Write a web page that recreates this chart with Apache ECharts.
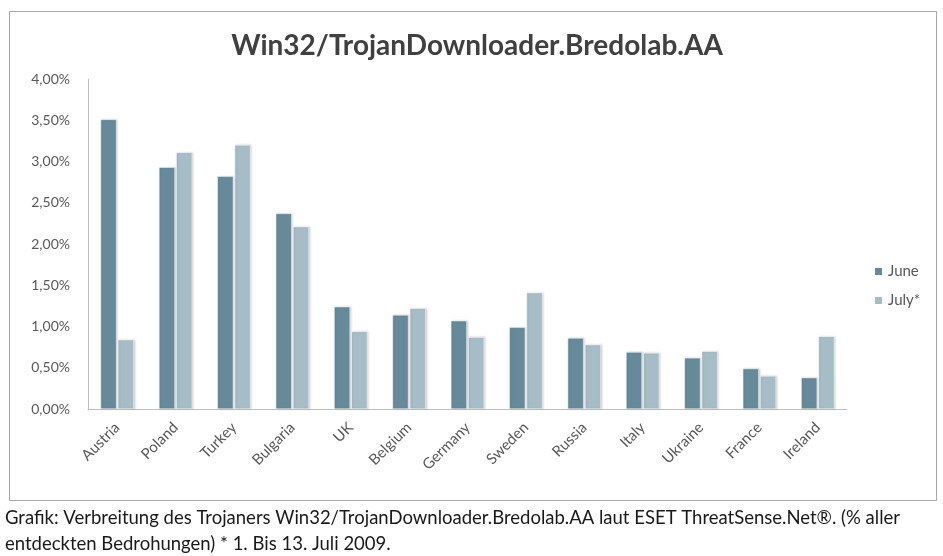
<!DOCTYPE html>
<html><head><meta charset="utf-8">
<script src="https://cdn.jsdelivr.net/npm/echarts@6/dist/echarts.min.js"></script>
<style>html,body{margin:0;padding:0;background:#fff}#c{width:943px;height:556px}</style>
</head><body><div id="c"></div>
<script>
const categories = ['Austria','Poland','Turkey','Bulgaria','UK','Belgium','Germany','Sweden','Russia','Italy','Ukraine','France','Ireland'];
const june = [3.51,2.93,2.82,2.37,1.24,1.14,1.07,0.99,0.86,0.69,0.62,0.49,0.38];
const july = [0.84,3.11,3.20,2.21,0.94,1.22,0.87,1.41,0.78,0.68,0.70,0.40,0.88];
const seriesNames = ['June','July*'];
const titleText = 'Win32/TrojanDownloader.Bredolab.AA';
const captionLines = ['Grafik: Verbreitung des Trojaners Win32/TrojanDownloader.Bredolab.AA laut ESET ThreatSense.Net®. (% aller','entdeckten Bedrohungen) * 1. Bis 13. Juli 2009.'];

const font = 'Lato, "Open Sans", sans-serif';
const chart = echarts.init(document.getElementById('c'), null, {renderer:'canvas'});
const barStyle = (c) => ({color:c, borderColor:'#ffffff', borderWidth:0.5, shadowColor:'rgba(0,0,0,0.18)', shadowBlur:2, shadowOffsetX:1, shadowOffsetY:0});
chart.setOption({
  animation:false,
  backgroundColor:'#ffffff',
  textStyle:{fontFamily:font},
  title:{text:titleText, left:472, top:27, textAlign:'center',
    textStyle:{fontFamily:font, fontSize:28, fontWeight:'bold', color:'#404040'}},
  legend:{orient:'vertical', left:868, top:259, itemWidth:9, itemHeight:9, itemGap:14,
    icon:'rect', textStyle:{fontFamily:font, fontSize:15, color:'#595959'}, data:seriesNames},
  grid:{left:88, right:96, top:79, bottom:147, containLabel:false},
  xAxis:{type:'category', data:categories,
    axisLine:{lineStyle:{color:'#bfbfbf'}}, axisTick:{show:false},
    axisLabel:{rotate:45, interval:0, fontFamily:font, fontSize:15, color:'#595959', margin:16}},
  yAxis:{type:'value', min:0, max:4, interval:0.5,
    axisLine:{show:true, lineStyle:{color:'#bfbfbf'}}, axisTick:{show:false}, splitLine:{show:false},
    axisLabel:{fontFamily:font, fontSize:14, color:'#595959', margin:18,
      formatter:(v)=>v.toFixed(2).replace('.',',')+'%'}},
  series:[
    {name:seriesNames[0], type:'bar', data:june, barWidth:16, barGap:'8%', itemStyle:barStyle('#678a9a')},
    {name:seriesNames[1], type:'bar', data:july, barWidth:16, barGap:'8%', itemStyle:barStyle('#a6bcc7')}
  ],
  graphic:[
    {type:'rect', shape:{x:9.5, y:11.5, width:927, height:489}, style:{fill:'none', stroke:'#a6a6a6', lineWidth:1}, silent:true},
    {type:'text', left:5, top:509, style:{text:captionLines[0], font:'18.5px '+font, fill:'#1a1a1a'}},
    {type:'text', left:5, top:535, style:{text:captionLines[1], font:'18.5px '+font, fill:'#1a1a1a'}}
  ]
});
</script></body></html>
